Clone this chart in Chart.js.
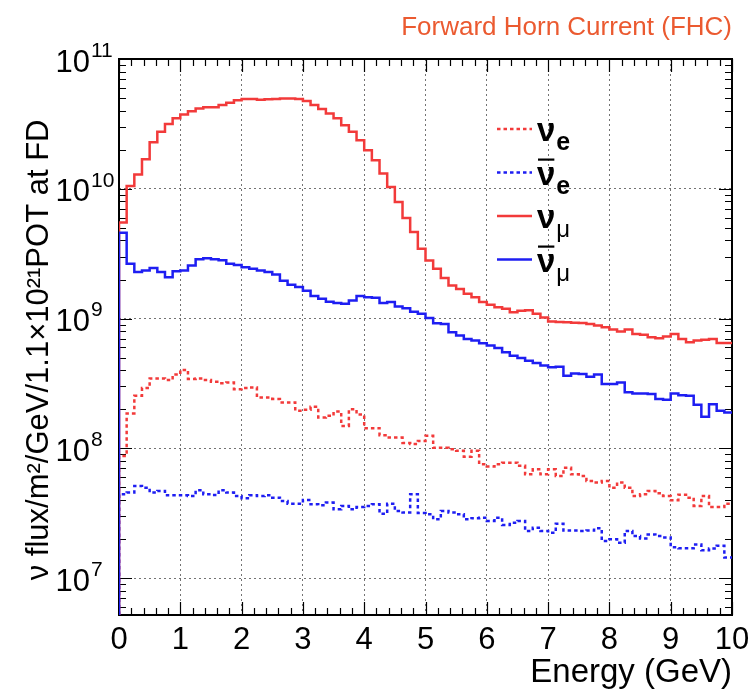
<!DOCTYPE html>
<html>
<head>
<meta charset="utf-8">
<title>FHC flux</title>
<script src="https://cdn.jsdelivr.net/npm/chart.js@4.4.1/dist/chart.umd.min.js"></script>
<style>
  html, body { margin: 0; padding: 0; background: #fff; }
  #wrap { width: 750px; height: 691px; }
</style>
</head>
<body>
<div id="wrap"><canvas id="fluxChart" width="750" height="691"></canvas></div>
<script>
// Bin width of the histograms (GeV) and axis ticks
const binWidth = 0.125;
const xTicks = [0, 1, 2, 3, 4, 5, 6, 7, 8, 9, 10];
const yTicks = [1e7, 1e8, 1e9, 1e10, 1e11];
const yMin = 5.2e6;
const yMax = 1e11;

const seriesNames = ['νe', 'ν\u0304e', 'νμ', 'ν\u0304μ'];

// flux per bin (80 bins, 0-10 GeV)
const nue = [
  8.75e7, 1.86e8, 2.54e8, 2.92e8, 3.46e8, 3.46e8, 3.36e8, 3.70e8, 4.02e8, 3.42e8,
  3.46e8, 3.36e8, 3.26e8, 3.18e8, 3.22e8, 2.86e8, 2.92e8, 2.95e8, 2.47e8, 2.47e8,
  2.40e8, 2.26e8, 2.26e8, 1.95e8, 1.98e8, 2.09e8, 1.73e8, 1.78e8, 1.92e8, 1.49e8,
  2.00e8, 1.82e8, 1.43e8, 1.43e8, 1.26e8, 1.21e8, 1.21e8, 1.10e8, 1.08e8, 1.14e8,
  1.25e8, 1.01e8, 1.01e8, 9.86e7, 9.57e7, 8.60e7, 9.57e7, 7.55e7, 7.24e7, 7.55e7,
  7.76e7, 7.76e7, 7.33e7, 6.31e7, 6.90e7, 6.31e7, 6.90e7, 6.13e7, 7.10e7, 6.31e7,
  6.13e7, 5.61e7, 5.45e7, 5.61e7, 4.98e7, 5.45e7, 4.98e7, 4.29e7, 4.43e7, 4.70e7,
  4.50e7, 4.29e7, 3.98e7, 4.40e7, 4.17e7, 3.60e7, 4.29e7, 3.53e7, 3.53e7, 3.75e7
];
const nuebar = [
  4.43e7, 4.56e7, 5.13e7, 4.98e7, 4.56e7, 4.70e7, 4.35e7, 4.35e7, 4.35e7, 4.29e7,
  4.76e7, 4.43e7, 4.38e7, 4.76e7, 4.56e7, 4.29e7, 4.12e7, 4.35e7, 4.29e7, 4.35e7,
  4.17e7, 3.93e7, 3.75e7, 3.75e7, 4.00e7, 3.71e7, 3.64e7, 3.82e7, 3.39e7, 3.60e7,
  3.39e7, 3.53e7, 3.60e7, 3.71e7, 3.14e7, 3.75e7, 3.29e7, 3.20e7, 4.43e7, 3.17e7,
  3.10e7, 2.84e7, 3.29e7, 3.20e7, 3.10e7, 2.84e7, 2.90e7, 2.92e7, 2.76e7, 2.92e7,
  2.57e7, 2.67e7, 2.76e7, 2.31e7, 2.45e7, 2.31e7, 2.24e7, 2.63e7, 2.33e7, 2.33e7,
  2.31e7, 2.33e7, 2.42e7, 1.93e7, 1.99e7, 1.87e7, 2.31e7, 2.11e7, 2.02e7, 2.17e7,
  2.11e7, 2.06e7, 1.73e7, 1.70e7, 1.70e7, 1.82e7, 1.64e7, 1.69e7, 1.78e7, 1.44e7
];
const numu = [
  5.50e9, 1.05e10, 1.29e10, 1.69e10, 2.28e10, 2.75e10, 3.15e10, 3.49e10, 3.74e10, 3.96e10,
  4.16e10, 4.24e10, 4.24e10, 4.42e10, 4.60e10, 4.82e10, 4.91e10, 4.91e10, 4.85e10, 4.90e10,
  4.91e10, 4.97e10, 4.97e10, 4.91e10, 4.74e10, 4.42e10, 4.11e10, 3.81e10, 3.49e10, 3.09e10,
  2.75e10, 2.37e10, 1.98e10, 1.66e10, 1.31e10, 1.03e10, 7.90e9, 5.96e9, 4.64e9, 3.45e9,
  2.80e9, 2.42e9, 2.05e9, 1.80e9, 1.69e9, 1.55e9, 1.46e9, 1.34e9, 1.28e9, 1.22e9,
  1.19e9, 1.12e9, 1.15e9, 1.16e9, 1.09e9, 1.02e9, 9.50e8, 9.40e8, 9.35e8, 9.30e8,
  9.26e8, 9.10e8, 8.83e8, 8.57e8, 8.22e8, 7.94e8, 8.22e8, 7.62e8, 7.52e8, 7.17e8,
  7.05e8, 7.26e8, 7.62e8, 6.97e8, 6.56e8, 6.77e8, 6.88e8, 6.97e8, 6.49e8, 6.49e8
];
const numubar = [
  4.59e9, 2.64e9, 2.28e9, 2.35e9, 2.45e9, 2.28e9, 2.08e9, 2.32e9, 2.35e9, 2.56e9,
  2.86e9, 2.92e9, 2.86e9, 2.81e9, 2.64e9, 2.59e9, 2.49e9, 2.42e9, 2.35e9, 2.28e9,
  2.19e9, 1.96e9, 1.82e9, 1.75e9, 1.64e9, 1.49e9, 1.42e9, 1.35e9, 1.32e9, 1.30e9,
  1.38e9, 1.49e9, 1.46e9, 1.45e9, 1.32e9, 1.34e9, 1.24e9, 1.20e9, 1.13e9, 1.09e9,
  1.01e9, 9.20e8, 9.10e8, 7.83e8, 7.39e8, 6.97e8, 6.77e8, 6.44e8, 6.19e8, 5.94e8,
  5.50e8, 5.18e8, 4.97e8, 4.74e8, 4.55e8, 4.34e8, 4.21e8, 4.26e8, 3.63e8, 3.78e8,
  3.74e8, 3.57e8, 3.70e8, 3.13e8, 3.13e8, 3.22e8, 2.70e8, 2.65e8, 2.65e8, 2.62e8,
  2.40e8, 2.37e8, 2.65e8, 2.57e8, 2.54e8, 2.17e8, 1.75e8, 2.19e8, 1.95e8, 1.89e8
];

const RED = '#f23a3a';
const BLUE = '#1e1ef2';
const FONT = "'Liberation Sans', Arial, Helvetica, sans-serif";

// histogram -> step points (ROOT style: starts from the axis bottom)
function toSteps(values) {
  const pts = [{ x: 0, y: yMin }];
  values.forEach((v, i) => pts.push({ x: i * binWidth, y: v }));
  pts.push({ x: values.length * binWidth, y: values[values.length - 1] });
  return pts;
}

function histDataset(label, values, color, dashed, order) {
  return {
    label: label,
    data: toSteps(values),
    borderColor: color,
    borderWidth: 2.5,
    borderDash: dashed ? [3.5, 3] : [],
    stepped: 'before',
    pointRadius: 0,
    fill: false,
    order: order
  };
}

// frame with inward ticks on all 4 sides (drawn under the histograms)
const frameTicks = {
  id: 'frameTicks',
  beforeDatasetsDraw(chart) {
    const { ctx, chartArea: a, scales: { x, y } } = chart;
    ctx.save();
    ctx.strokeStyle = '#000';
    ctx.lineWidth = 1.2;
    ctx.beginPath();
    // x ticks, minor every 0.2
    for (let i = 0; i <= 50; i++) {
      const px = Math.round(x.getPixelForValue(i * 0.2)) + 0.5;
      const len = i % 5 === 0 ? 13 : 7;
      ctx.moveTo(px, a.bottom); ctx.lineTo(px, a.bottom - len);
      ctx.moveTo(px, a.top); ctx.lineTo(px, a.top + len);
    }
    // y ticks, minor 2..9 in each decade
    for (let d = 1e6; d < yMax; d *= 10) {
      for (let m = 1; m <= 9; m++) {
        const v = m * d;
        if (v < yMin || v > yMax) continue;
        const py = Math.round(y.getPixelForValue(v)) + 0.5;
        const len = m === 1 ? 13 : 7;
        ctx.moveTo(a.left, py); ctx.lineTo(a.left + len, py);
        ctx.moveTo(a.right, py); ctx.lineTo(a.right - len, py);
      }
    }
    ctx.stroke();
    ctx.lineWidth = 2;
    ctx.strokeRect(a.left, a.top, a.right - a.left, a.bottom - a.top);
    ctx.restore();
  },
  // y tick labels 10^n with raised exponent
  afterDraw(chart) {
    const { ctx, scales: { y } } = chart;
    ctx.save();
    ctx.fillStyle = '#000';
    ctx.textBaseline = 'middle';
    yTicks.forEach(v => {
      const py = y.getPixelForValue(v);
      ctx.font = '31px ' + FONT;
      ctx.textAlign = 'right';
      ctx.fillText('10', 90, py + 4);
      ctx.font = '21px ' + FONT;
      ctx.textAlign = 'left';
      ctx.fillText(String(Math.round(Math.log10(v))), 91, py - 8);
    });
    ctx.restore();
  }
};

// legend inside the plot, no box
const innerLegend = {
  id: 'innerLegend',
  afterDatasetsDraw(chart) {
    const { ctx, chartArea: a } = chart;
    const x0 = a.left + 378;
    const y0 = a.top + 70;
    ctx.save();
    chart.data.datasets.forEach((ds, i) => {
      const yy = y0 + i * 43.5;
      ctx.strokeStyle = ds.borderColor;
      ctx.lineWidth = 2.5;
      ctx.setLineDash(ds.borderDash);
      ctx.beginPath();
      ctx.moveTo(x0, yy); ctx.lineTo(x0 + 35, yy);
      ctx.stroke();
      ctx.setLineDash([]);
      const name = ds.label;
      const sub = name.charAt(name.length - 1);
      const bar = name.indexOf('\u0304') >= 0;
      ctx.fillStyle = '#000';
      ctx.textBaseline = 'alphabetic';
      ctx.textAlign = 'left';
      ctx.font = 'bold 33px ' + FONT;
      ctx.fillText('ν', x0 + 40, yy + 12);
      const w = ctx.measureText('ν').width;
      if (bar) ctx.fillRect(x0 + 41, yy - 14, w - 2, 2.2);
      ctx.font = (sub === 'e' ? 'bold 25px ' : '24px ') + FONT;
      ctx.fillText(sub, x0 + 40 + w + 1, yy + 21);
    });
    ctx.restore();
  }
};

const ctx = document.getElementById('fluxChart').getContext('2d');
const chart = new Chart(ctx, {
  type: 'line',
  data: {
    datasets: [
      histDataset(seriesNames[0], nue, RED, true, 4),
      histDataset(seriesNames[1], nuebar, BLUE, true, 3),
      histDataset(seriesNames[2], numu, RED, false, 2),
      histDataset(seriesNames[3], numubar, BLUE, false, 1)
    ]
  },
  options: {
    responsive: false,
    animation: false,
    layout: { padding: { left: 0, right: 18, top: 0, bottom: 0 } },
    plugins: {
      legend: { display: false },
      tooltip: { enabled: false },
      title: {
        display: true,
        text: 'Forward Horn Current (FHC)',
        align: 'end',
        color: '#eb5a30',
        font: { family: FONT, size: 26, weight: 'normal', lineHeight: 1.2 },
        padding: { top: 12, bottom: 15.8 }
      }
    },
    scales: {
      x: {
        type: 'linear',
        min: 0,
        max: 10,
        afterBuildTicks: s => { s.ticks = xTicks.map(v => ({ value: v })); },
        // fixed height, no extra side padding for the end labels
        afterFit: s => { s.height = 76; s.paddingLeft = 0; s.paddingRight = 0; },
        grid: { color: 'rgba(0,0,0,0.55)', lineWidth: 1, drawTicks: false },
        border: { display: false, dash: [2, 3] },
        ticks: { color: '#000', font: { family: FONT, size: 31 }, padding: 7, maxRotation: 0, autoSkip: false },
        title: {
          display: true, text: 'Energy (GeV)', align: 'end', color: '#000',
          font: { family: FONT, size: 33 }, padding: { top: 0, bottom: -2 }
        }
      },
      y: {
        type: 'logarithmic',
        min: yMin,
        max: yMax,
        afterBuildTicks: s => { s.ticks = yTicks.map(v => ({ value: v })); },
        afterFit: s => { s.width = 119; s.paddingTop = 0; s.paddingBottom = 0; },
        grid: { color: 'rgba(0,0,0,0.55)', lineWidth: 1, drawTicks: false },
        border: { display: false, dash: [2, 3] },
        ticks: { display: false },
        title: {
          display: true, text: 'ν flux/m²/GeV/1.1×10²¹POT at FD   ', color: '#000',
          font: { family: FONT, size: 31 }, padding: { top: 21, bottom: 0 }
        }
      }
    }
  },
  plugins: [frameTicks, innerLegend]
});
</script>
</body>
</html>
